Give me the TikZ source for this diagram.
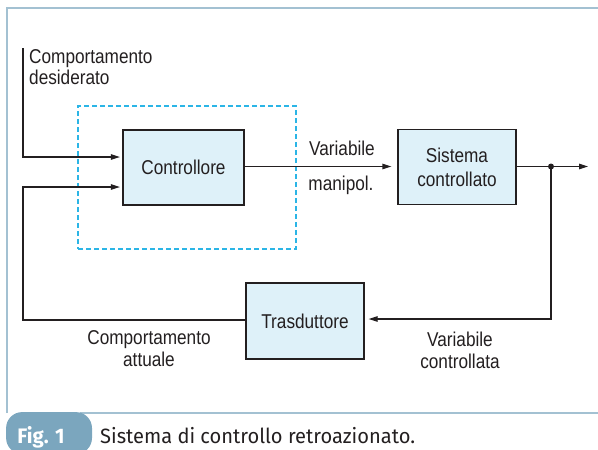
\documentclass[tikz,border=0pt]{standalone}
\usepackage{fontspec}
\setmainfont[FakeStretch=0.86]{Liberation Sans}
\newfontfamily\capfont[FakeStretch=0.97]{Fira Sans}
\usetikzlibrary{arrows.meta}
\definecolor{ink}{HTML}{231F20}
\definecolor{boxfill}{HTML}{DEF1F9}
\definecolor{frameblue}{HTML}{A3C1D2}
\definecolor{tabblue}{HTML}{7BA6BE}
\definecolor{dashcyan}{HTML}{2BB5E6}
\begin{document}
\begin{tikzpicture}[x=1pt,y=-1pt,
  block/.style={draw=ink,line width=1.2pt,fill=boxfill,minimum width=118pt,minimum height=75pt,inner sep=0pt,align=center,font=\fontsize{20}{24}\selectfont,text=ink},
  lbl/.style={font=\fontsize{20}{22}\selectfont,text=ink,inner sep=0pt,align=center},
  conn/.style={draw=ink,line width=1.2pt},
  arr/.style={conn,-{Triangle[length=9pt,width=5.5pt]}}]
\useasboundingbox (0,0) rectangle (598,450);
% frame
\draw[frameblue,line width=1.8pt] (7,413) -- (7,8) -- (598,8);
\draw[frameblue,line width=1.8pt] (80,413) -- (598,413);
\fill[tabblue,rounded corners=16pt] (6.1,412.1) -- (92,412.1) -- (92,454) -- (6.1,454) -- cycle;
\node[text=white,font=\capfont\bfseries\fontsize{21}{24}\selectfont,inner sep=0pt,anchor=base] (fig) at (41,443) {Fig. 1};
\node[anchor=base west,font=\capfont\fontsize{20.7}{24}\selectfont,text=ink,inner sep=0pt] (cap) at (100,443) {Sistema di controllo retroazionato.};
% dashed box
\node[draw=dashcyan,dashed,line width=1.1pt,dash pattern=on 5pt off 3pt,minimum width=218pt,minimum height=143pt,inner sep=0pt] (dash) at (187,177.5) {};
% blocks
\node[block,minimum width=121pt] (ctrl) at (183.5,167.5) {Controllore};
\node[block] (sys) at (457,167) {Sistema\\controllato};
\node[block,minimum height=76pt] (tras) at (305,321) {Trasduttore};
% coordinates
\coordinate (in) at (23,48);
\coordinate (dot) at (551,166.5);
\coordinate (out) at (588,166.5);
\coordinate (lc) at (23,320);
% connectors
\draw[arr,shorten >=2.5pt] (in) |- ([yshift=10.5pt]ctrl.west);
\draw[arr,shorten >=6pt] (ctrl.east |- dot) -- (sys.west |- dot);
\draw[arr] (sys.east |- dot) -- (out);
\fill[ink] (dot) circle (3pt);
\draw[arr,shorten >=4pt] (dot) |- (tras.east |- 0,319);
\draw[arr,shorten >=2.5pt] (tras.west |- lc) -- (lc) |- ([yshift=-19.5pt]ctrl.west);
% labels
\node[lbl,anchor=west,align=left,font=\fontsize{20}{21}\selectfont] (desid) at (29,67) {Comportamento\\desiderato};
\node[lbl] (vm1) at (342,148) {Variabile};
\node[lbl] (vm2) at (341,185) {manipol.};
\node[lbl] (vc) at (460,350) {Variabile\\controllata};
\node[lbl] (ca) at (149,349) {Comportamento\\attuale};
\end{tikzpicture}
\end{document}
